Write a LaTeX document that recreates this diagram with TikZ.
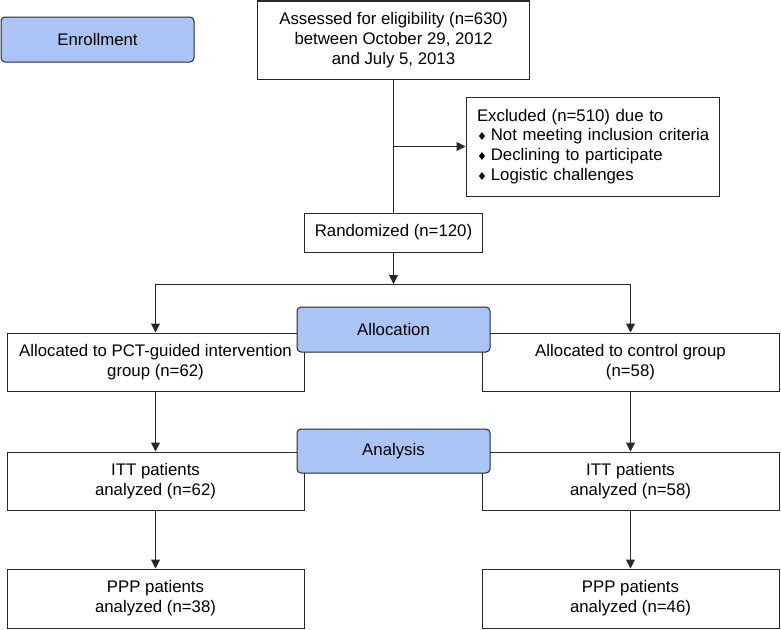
\documentclass[tikz,border=0pt]{standalone}
\usepackage{fontspec}
\setmainfont{Liberation Sans}
\newfontfamily\symfont{DejaVu Sans}
\usetikzlibrary{arrows.meta}
\definecolor{bluefill}{RGB}{169,196,245}
\definecolor{edge}{RGB}{40,40,40}
\begin{document}
\begin{tikzpicture}[x=1pt,y=-1pt,
  font=\fontsize{16.8}{19.8}\selectfont,
  box/.style={draw=edge,line width=1pt,fill=white,align=center,inner sep=0pt,anchor=center},
  bluebox/.style={box,fill=bluefill,rounded corners=4pt},
  conn/.style={draw=edge,line width=1pt},
  arr/.style={conn,-{Triangle[length=9pt,width=9pt]}}]
\useasboundingbox (0,0) rectangle (781,629);
\newcommand{\dmd}{{\symfont\fontsize{11}{19.8}\selectfont\char"2666}\hspace{4pt}}
% nodes
\node[bluebox,minimum width=193pt,minimum height=45pt] (enroll) at (97.5,39.5) {Enrollment};
\node[box,minimum width=272pt,minimum height=78pt] (assess) at (393.5,40) {Assessed for eligibility (n=630)\\between October 29, 2012\\and July 5, 2013};
\node[box,align=left,text width=231pt,inner xsep=11pt,minimum height=99pt] (excl) at (592.5,146.5)
  {\mbox{Excluded (n=510) due to}\\\mbox{\dmd Not meeting inclusion criteria}\\\mbox{\dmd Declining to participate}\\\mbox{\dmd Logistic challenges}};
\node[box,minimum width=178pt,minimum height=39pt] (rand) at (393.5,232.5) {Randomized (n=120)};
\node[box,minimum width=297pt,minimum height=58pt] (allocL) at (155.5,362) {Allocated to PCT-guided intervention\\group (n=62)};
\node[box,minimum width=297pt,minimum height=58pt] (allocR) at (630.5,362) {Allocated to control group\\(n=58)};
\node[bluebox,minimum width=193pt,minimum height=45pt] (alloc) at (393.5,329.5) {Allocation};
\node[box,minimum width=297pt,minimum height=58pt] (ittL) at (155.5,481) {ITT patients\\analyzed (n=62)};
\node[box,minimum width=297pt,minimum height=58pt] (ittR) at (630.5,481) {ITT patients\\analyzed (n=58)};
\node[bluebox,minimum width=193pt,minimum height=44pt] (anal) at (393.5,451) {Analysis};
\node[box,minimum width=297pt,minimum height=59pt] (pppL) at (155.5,598.5) {PPP patients\\analyzed (n=38)};
\node[box,minimum width=297pt,minimum height=59pt] (pppR) at (630.5,598.5) {PPP patients\\analyzed (n=46)};
% connectors
\coordinate (split) at (393.5,284);
\draw[conn] (assess.south) -- (rand.north);
\draw[arr] (assess.south |- excl.west) -- (excl.west);
\draw[arr] (rand.south) -- (split);
\draw[conn] (split -| allocL) -- (split -| allocR);
\draw[arr] (split -| allocL) -- (allocL.north);
\draw[arr] (split -| allocR) -- (allocR.north);
\draw[arr] (allocL.south) -- (ittL.north);
\draw[arr] (allocR.south) -- (ittR.north);
\draw[arr] (ittL.south) -- (pppL.north);
\draw[arr] (ittR.south) -- (pppR.north);
\end{tikzpicture}
\end{document}
